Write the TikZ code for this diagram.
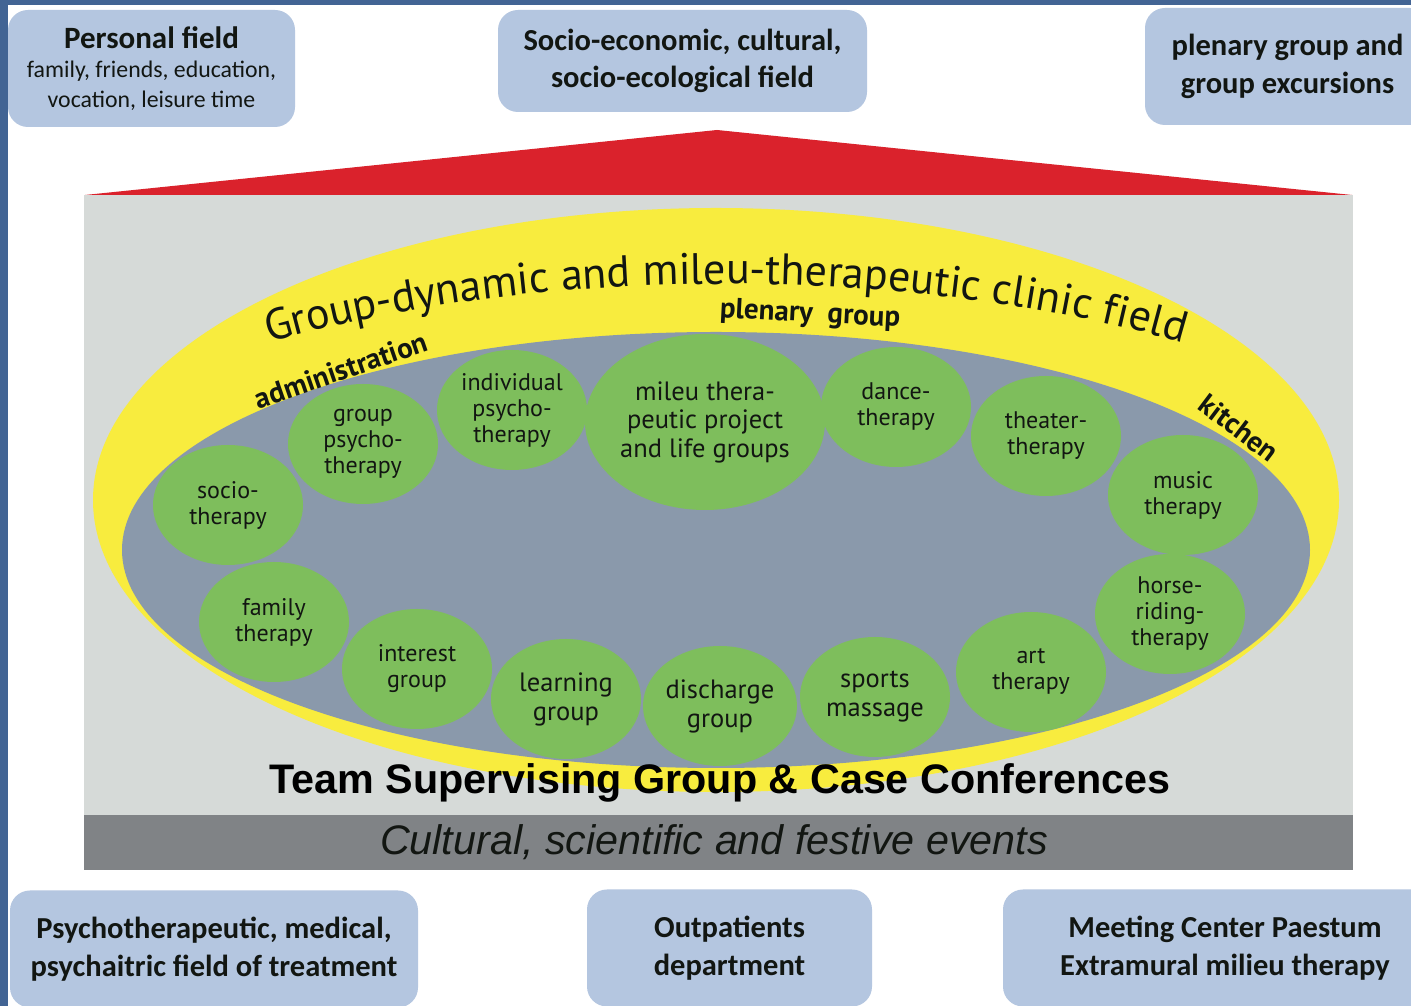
\documentclass[tikz,border=0pt]{standalone}
\usepackage{fontspec}
\setmainfont{Carlito}
\newfontfamily\circfont{PT Sans}
\newfontfamily\arialfont{Liberation Sans}
\usetikzlibrary{shapes.geometric,decorations.text}
\definecolor{boxblue}{RGB}{180,198,224}
\definecolor{edgeblue}{RGB}{66,100,148}
\definecolor{roofred}{RGB}{218,34,44}
\definecolor{housegrey}{RGB}{214,218,216}
\definecolor{bandgrey}{RGB}{128,131,134}
\definecolor{fieldyellow}{RGB}{248,236,62}
\definecolor{innergrey}{RGB}{138,153,171}
\definecolor{circgreen}{RGB}{126,190,92}
\definecolor{inkdark}{RGB}{18,22,18}
\begin{document}
\begin{tikzpicture}[x=1pt, y=1pt,
	fieldbox/.style={rounded corners=20pt, fill=boxblue, align=center, inner sep=0pt, text=inkdark, font=\bfseries\fontsize{30.5}{37.5}\selectfont},
	therapy/.style={ellipse, fill=circgreen, align=center, inner sep=0pt, text=inkdark, minimum width=150pt, minimum height=120pt, font=\circfont\fontsize{24}{26}\selectfont},
	therapybig/.style={therapy, font=\circfont\fontsize{26.5}{29}\selectfont},
	arealabel/.style={text=inkdark, inner sep=0pt, font=\circfont\bfseries\fontsize{29}{30}\selectfont}]
		\clip (0,0) rectangle (1411,1006);
		\fill[white] (0,0) rectangle (1411,1006);
		\fill[edgeblue] (0,0) rectangle (8,1006);
		\fill[edgeblue] (0,1001) rectangle (1411,1006);
		
		%outer fields
		\node[fieldbox, minimum width=287pt, minimum height=117pt, font=\mdseries\fontsize{23.8}{29.5}\selectfont] (personal) at (151.5,937.5)
			{{\bfseries\fontsize{31}{30}\selectfont Personal field}\\family, friends, education,\\vocation, leisure time};
		\node[fieldbox, minimum width=369pt, minimum height=102pt] (socio) at (682.5,945)
			{Socio-economic, cultural,\\socio-ecological field};
		\node[fieldbox, minimum width=285pt, minimum height=117pt] (plenarybox) at (1287.5,939.5)
			{plenary group and\\group excursions};
		\node[fieldbox, minimum width=408pt, minimum height=117pt] (psycho) at (214,57)
			{Psychotherapeutic, medical,\\psychaitric field of treatment};
		\node[fieldbox, minimum width=285pt, minimum height=117pt] (outpatients) at (729.5,58)
			{Outpatients\\department};
		\node[fieldbox, minimum width=444pt, minimum height=117pt] (meeting) at (1225,58)
			{Meeting Center Paestum\\Extramural milieu therapy};
		
		%house
		\fill[roofred] (85,811) -- (717,876) -- (1352,811) -- cycle;
		\fill[housegrey] (84,136) rectangle (1353,811);
		\fill[bandgrey] (84,136) rectangle (1353,191);
		
		%clinic field
		\fill[fieldyellow] (716,506) ellipse[x radius=623, y radius=292];
		\fill[innergrey] (716,456) ellipse[x radius=594, y radius=218];
		\path[decorate, decoration={text along path, text align=center, text format delimiters={|}{|},
			text={|\circfont\fontsize{44}{48}\selectfont\color{inkdark}|Group-dynamic and mileu-therapeutic clinic field}}]
			(726,456) ++(160:727 and 266) arc[start angle=160, end angle=20, x radius=727, y radius=266];
		\node[arealabel, rotate=-3] (plenary) at (810,691) {plenary\ \ group};
		\node[arealabel, rotate=19] (admin) at (341,636) {administration};
		\node[arealabel, rotate=-37] (kitchen) at (1239,578) {kitchen};
		
		%therapy groups
		\node[therapy, minimum width=224pt, minimum height=176pt, font=\circfont\fontsize{26.5}{28.5}\selectfont] (mileu) at (705,584)
			{mileu thera-\\peutic project\\and life groups};
		\foreach \nm/\cx/\cy/\st/\txt in {
			socio/228/501/therapy/{socio-\\therapy},
			grouppsy/363/562/therapy/{group\\psycho-\\therapy},
			individual/512/596/therapy/{individual\\psycho-\\therapy},
			dance/896/599/therapy/{dance-\\therapy},
			theater/1046/570/therapy/{theater-\\therapy},
			music/1183/511/therapy/{music\\therapy},
			horse/1170/392/therapy/{horse-\\riding-\\therapy},
			art/1031/334/therapy/{art\\therapy},
			sports/875/309/therapybig/{sports\\massage},
			discharge/720/300/therapybig/{discharge\\group},
			learning/566/307/therapybig/{learning\\group},
			interest/417/337/therapy/{interest\\group},
			family/274/384/therapy/{family\\therapy}}{
			\node[\st] (\nm) at (\cx,\cy) {\txt};
		}
		
		\node[text=black, inner sep=0pt, font=\arialfont\bfseries\fontsize{41.3}{44}\selectfont] (team) at (720,223)
			{Team Supervising Group \& Case Conferences};
		\node[text=inkdark, inner sep=0pt, font=\arialfont\itshape\fontsize{41.3}{44}\selectfont] (events) at (714,164)
			{Cultural, scientific and festive events};
\end{tikzpicture}
\end{document}
